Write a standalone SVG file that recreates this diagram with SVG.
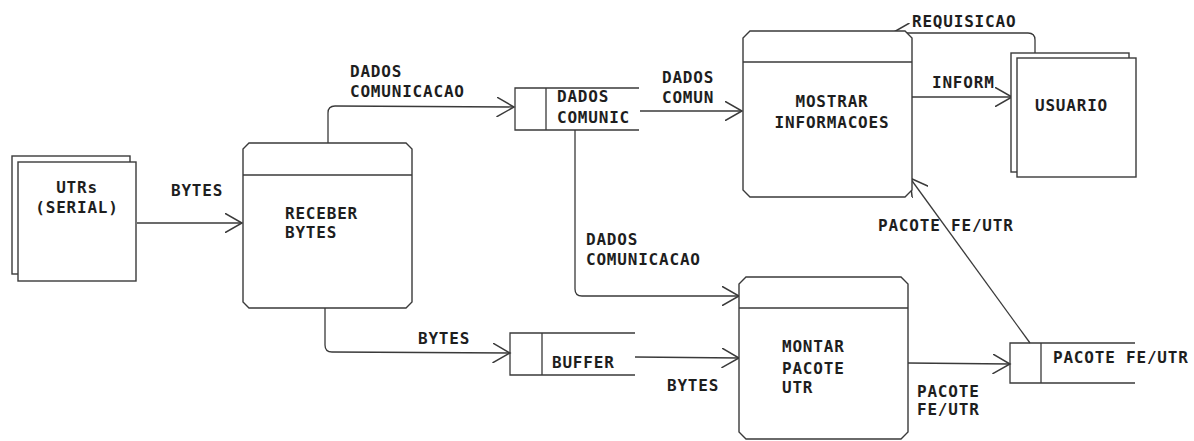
<svg xmlns="http://www.w3.org/2000/svg" width="1194" height="441" viewBox="0 0 1194 441">
<defs>
<style>
.ln{fill:none;stroke:#3a3a3a;stroke-width:1.3}
.box{fill:#fff;stroke:#3a3a3a;stroke-width:1.4}
.t{font-family:"DejaVu Sans Mono","Liberation Mono",monospace;font-weight:bold;font-size:16px;letter-spacing:0.8px;fill:#1e1e1e}
.c{text-anchor:middle}
</style>
<marker id="arr" markerUnits="userSpaceOnUse" markerWidth="20" markerHeight="20" refX="14" refY="8" orient="auto" viewBox="0 0 16 16">
<path d="M0,0 L14,8 L0,16" fill="none" stroke="#3a3a3a" stroke-width="1.2"/>
</marker>
</defs>
<rect width="1194" height="441" fill="#fff"/>

<g id="connectors">
<path class="ln" d="M137,223 L242,223" marker-end="url(#arr)"/>
<path class="ln" d="M328,143 L328,113 Q328,106 335,106 L514,107" marker-end="url(#arr)"/>
<path class="ln" d="M640,111 L742,111" marker-end="url(#arr)"/>
<path class="ln" d="M575,130 L575,289 Q575,296 582,296 L739,296" marker-end="url(#arr)"/>
<path class="ln" d="M1035,53 L1035,40 Q1035,33 1028,33 L892,33" marker-end="url(#arr)"/>
<path class="ln" d="M912,97 L1012,97" marker-end="url(#arr)"/>
<path class="ln" d="M325,308 L325,345 Q325,352 332,352 L510,353" marker-end="url(#arr)"/>
<path class="ln" d="M635,357 L739,358" marker-end="url(#arr)"/>
<path class="ln" d="M908,363 L1010,364" marker-end="url(#arr)"/>
<path class="ln" d="M1030,343 L910,178" marker-end="url(#arr)"/>
</g>

<g id="utrs">
<rect class="box" x="12" y="156" width="118" height="118"/>
<rect class="box" x="18" y="162" width="118" height="119"/>
<text class="t c" x="77" y="193">UTRs</text>
<text class="t c" x="77" y="213">(SERIAL)</text>
</g>
<text class="t" x="171" y="196">BYTES</text>

<g id="receber">
<path class="box" d="M249,143 L406,143 L412,149 L412,302 L406,308 L249,308 L243,302 L243,149 Z"/>
<line class="ln" x1="243" y1="175" x2="412" y2="175"/>
<text class="t" x="285" y="219">RECEBER</text>
<text class="t" x="285" y="238">BYTES</text>
</g>

<g id="lbl-dados1">
<text class="t" x="350" y="77">DADOS</text>
<text class="t" x="350" y="97">COMUNICACAO</text>
</g>

<g id="store-dados">
<path class="ln" d="M639,88 L515,88 L515,130 L639,130 M546,88 L546,130"/>
<text class="t" x="557" y="102">DADOS</text>
<text class="t" x="557" y="123">COMUNIC</text>
</g>

<g id="lbl-dadoscomun">
<text class="t" x="662" y="83">DADOS</text>
<text class="t" x="662" y="103">COMUN</text>
</g>

<g id="mostrar">
<path class="box" d="M750,31 L905,31 L912,38 L912,190 L905,197 L750,197 L743,190 L743,38 Z"/>
<line class="ln" x1="743" y1="62" x2="912" y2="62"/>
<text class="t c" x="832" y="107">MOSTRAR</text>
<text class="t c" x="832" y="128">INFORMACOES</text>
</g>

<text class="t" x="912" y="27">REQUISICAO</text>
<text class="t" x="932" y="88">INFORM</text>

<g id="usuario">
<rect class="box" x="1011" y="53" width="118" height="119"/>
<rect class="box" x="1017" y="58" width="119" height="119"/>
<text class="t" x="1035" y="111">USUARIO</text>
</g>

<g id="lbl-dados2">
<text class="t" x="586" y="245">DADOS</text>
<text class="t" x="586" y="265">COMUNICACAO</text>
</g>

<text class="t" x="878" y="231">PACOTE FE/UTR</text>
<text class="t" x="418" y="344">BYTES</text>

<g id="store-buffer">
<path class="ln" d="M635,333 L510,333 L510,375 L635,375 M542,333 L542,375"/>
<text class="t" x="552" y="368">BUFFER</text>
</g>

<text class="t" x="667" y="391">BYTES</text>

<g id="montar">
<path class="box" d="M746,277 L901,277 L908,284 L908,432 L901,439 L746,439 L739,432 L739,284 Z"/>
<line class="ln" x1="739" y1="308" x2="908" y2="308"/>
<text class="t" x="782" y="352">MONTAR</text>
<text class="t" x="782" y="374">PACOTE</text>
<text class="t" x="782" y="393">UTR</text>
</g>

<g id="lbl-pacote">
<text class="t" x="917" y="397">PACOTE</text>
<text class="t" x="917" y="415">FE/UTR</text>
</g>

<g id="store-pacote">
<path class="ln" d="M1135,343 L1010,343 L1010,383 L1135,383 M1041,343 L1041,383"/>
<text class="t" x="1053" y="363">PACOTE FE/UTR</text>
</g>
</svg>
